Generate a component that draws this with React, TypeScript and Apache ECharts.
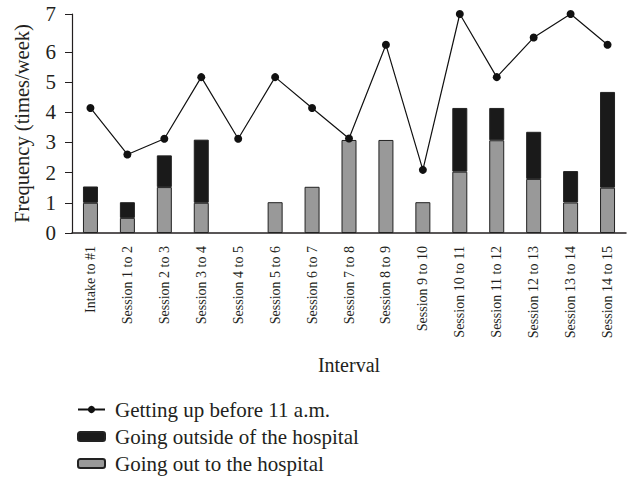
import React, { useEffect, useRef } from "react";
import * as echarts from "echarts";

const categories = [
  "Intake to #1", "Session 1 to 2", "Session 2 to 3", "Session 3 to 4", "Session 4 to 5",
  "Session 5 to 6", "Session 6 to 7", "Session 7 to 8", "Session 8 to 9", "Session 9 to 10",
  "Session 10 to 11", "Session 11 to 12", "Session 12 to 13", "Session 13 to 14", "Session 14 to 15",
];
const gettingUp = [4.14, 2.6, 3.12, 5.16, 3.12, 5.16, 4.14, 3.13, 6.23, 2.09, 7.25, 5.16, 6.47, 7.25, 6.23];
const outToHospital = [1.0, 0.5, 1.52, 1.0, 0, 1.02, 1.53, 3.08, 3.08, 1.02, 2.03, 3.07, 1.79, 1.01, 1.5];
const outsideHospital = [0.54, 0.52, 1.05, 2.09, 0, 0, 0, 0, 0, 0, 2.11, 1.07, 1.56, 1.04, 3.17];
const yTickValues = [0, 1, 2, 3, 4, 5, 6, 7.25];

const SERIF = "'Liberation Serif', 'Times New Roman', serif";
const TXT = "#231f20";

export default function App() {
  const ref = useRef<HTMLDivElement>(null);
  useEffect(() => {
    if (!ref.current) return;
    const chart = echarts.init(ref.current, undefined, { renderer: "svg" });
    chart.setOption({
      animation: false,
      textStyle: { fontFamily: SERIF, color: TXT },
      grid: { left: 72, right: 4, top: 14, bottom: 248 },
      legend: {
        orient: "vertical",
        left: 72,
        top: 394,
        height: 120,
        itemGap: 6,
        itemWidth: 27,
        itemHeight: 9,
        textStyle: { fontFamily: SERIF, fontSize: 21, color: TXT, padding: [0, 0, 0, 5] },
        data: ["Getting up before 11 a.m.", "Going outside of the hospital", "Going out to the hospital"],
      },
      xAxis: {
        type: "category",
        data: categories,
        name: "Interval",
        nameLocation: "middle",
        nameGap: 122,
        nameTextStyle: { fontFamily: SERIF, fontSize: 20, color: TXT },
        axisLine: { lineStyle: { color: "#231f20", width: 1.5 } },
        axisTick: { show: false },
        axisLabel: { rotate: 90, interval: 0, fontSize: 14, fontFamily: SERIF, color: TXT, margin: 13 },
      },
      yAxis: {
        type: "value",
        min: 0,
        max: 7.25,
        name: "Frequency (times/week)",
        nameLocation: "middle",
        nameGap: 40,
        nameTextStyle: { fontFamily: SERIF, fontSize: 20.5, color: TXT },
        splitLine: { show: false },
        axisLine: { show: true, lineStyle: { color: "#231f20", width: 1.2 } },
        axisTick: { show: true, length: 7, customValues: yTickValues, lineStyle: { color: "#231f20" } },
        axisLabel: {
          customValues: yTickValues,
          fontSize: 21,
          fontFamily: SERIF,
          color: TXT,
          margin: 16,
          formatter: (v: number) => (v > 7 ? "7" : String(Math.round(v))),
        },
      },
      series: [
        {
          name: "Getting up before 11 a.m.",
          type: "line",
          data: gettingUp,
          symbol: "circle",
          symbolSize: 8,
          z: 5,
          lineStyle: { color: "#111", width: 1.2 },
          itemStyle: { color: "#111" },
        },
        {
          name: "Going out to the hospital",
          type: "bar",
          stack: "s",
          data: outToHospital.map((v) => (v === 0 ? null : v)),
          barWidth: 15,
          itemStyle: { color: "#999999", borderColor: "#222", borderWidth: 1 },
        },
        {
          name: "Going outside of the hospital",
          type: "bar",
          stack: "s",
          data: outsideHospital.map((v) => (v === 0 ? null : v)),
          barWidth: 15,
          itemStyle: { color: "#1a1a1a", borderColor: "#222", borderWidth: 1 },
        },
      ],
    });
    return () => chart.dispose();
  }, []);
  return <div ref={ref} style={{ position: "absolute", left: 0, top: 0, width: 630, height: 481 }} />;
}
